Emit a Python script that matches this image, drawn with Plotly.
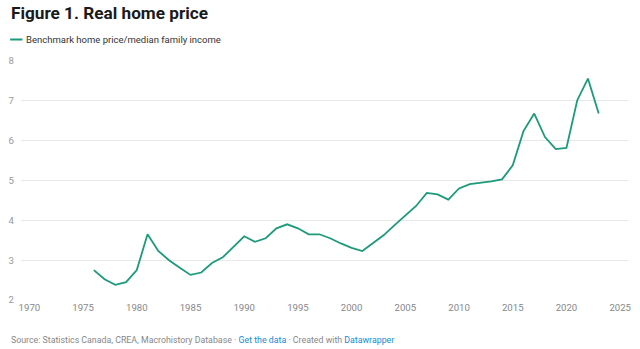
import plotly.graph_objects as go

years = list(range(1976, 2024))
ratio = [2.75, 2.52, 2.38, 2.45, 2.75, 3.65, 3.23, 3.00, 2.81, 2.63,
         2.69, 2.93, 3.07, 3.34, 3.60, 3.46, 3.55, 3.80, 3.90, 3.80,
         3.65, 3.65, 3.55, 3.42, 3.31, 3.23, 3.42, 3.63, 3.88, 4.11,
         4.36, 4.69, 4.65, 4.52, 4.80, 4.91, 4.94, 4.98, 5.03, 5.38,
         6.24, 6.68, 6.09, 5.79, 5.82, 7.01, 7.56, 6.68]
x_ticks = [1970, 1975, 1980, 1985, 1990, 1995, 2000, 2005, 2010, 2015, 2020, 2025]
y_ticks = [2, 3, 4, 5, 6, 7, 8]

title = "Figure 1. Real home price"
series_name = "Benchmark home price/median family income"
LINE = "#1c9a7a"

W, H = 640, 349
ML, MR, MT, MB = 15, 9, 61, 49
PW, PH = W - ML - MR, H - MT - MB

def px(x):
    return (x - ML) / PW

def py(y):
    return (H - MB - y) / PH

fig = go.Figure()
fig.add_trace(go.Scatter(x=years, y=ratio, mode="lines", name=series_name,
                         line=dict(color=LINE, width=1.8), showlegend=False))

fig.update_layout(
    width=W, height=H, margin=dict(l=ML, r=MR, t=MT, b=MB),
    paper_bgcolor="white", plot_bgcolor="white",
    font=dict(family="Roboto", color="#333333"),
    xaxis=dict(range=[1969.22, 2025.73], tickvals=x_ticks, showgrid=False,
               zeroline=False, showline=False, ticks="",
               tickfont=dict(size=9.6, color="#888888")),
    yaxis=dict(range=[2, 8], tickvals=y_ticks, showgrid=True, gridcolor="#e8e8e8",
               gridwidth=1, zeroline=False, showline=False, ticks="",
               ticklabelstandoff=6,
               tickfont=dict(size=9.6, color="#999999")),
    annotations=[
        dict(text="<b>" + title + "</b>", x=px(3), y=py(13.5), xref="paper", yref="paper",
             xanchor="left", yanchor="middle", showarrow=False,
             font=dict(size=17.2, color="#1a1a1a", family="Roboto")),
        dict(text=series_name, x=px(18.5), y=py(39.5), xref="paper", yref="paper",
             xanchor="left", yanchor="middle", showarrow=False,
             font=dict(size=9.5, color="#333333")),
        dict(text='Source: Statistics Canada, CREA, Macrohistory Database · '
                  '<span style="color:#1a8ad0">Get the data</span> · Created with '
                  '<span style="color:#1a8ad0">Datawrapper</span>',
             x=px(3), y=py(340), xref="paper", yref="paper",
             xanchor="left", yanchor="middle", showarrow=False,
             font=dict(size=8.8, color="#888888")),
    ],
    shapes=[
        dict(type="line", xref="paper", yref="paper", x0=px(4), x1=px(16.5),
             y0=py(39.5), y1=py(39.5), line=dict(color=LINE, width=2)),
    ],
)

fig.write_html("out.html")
